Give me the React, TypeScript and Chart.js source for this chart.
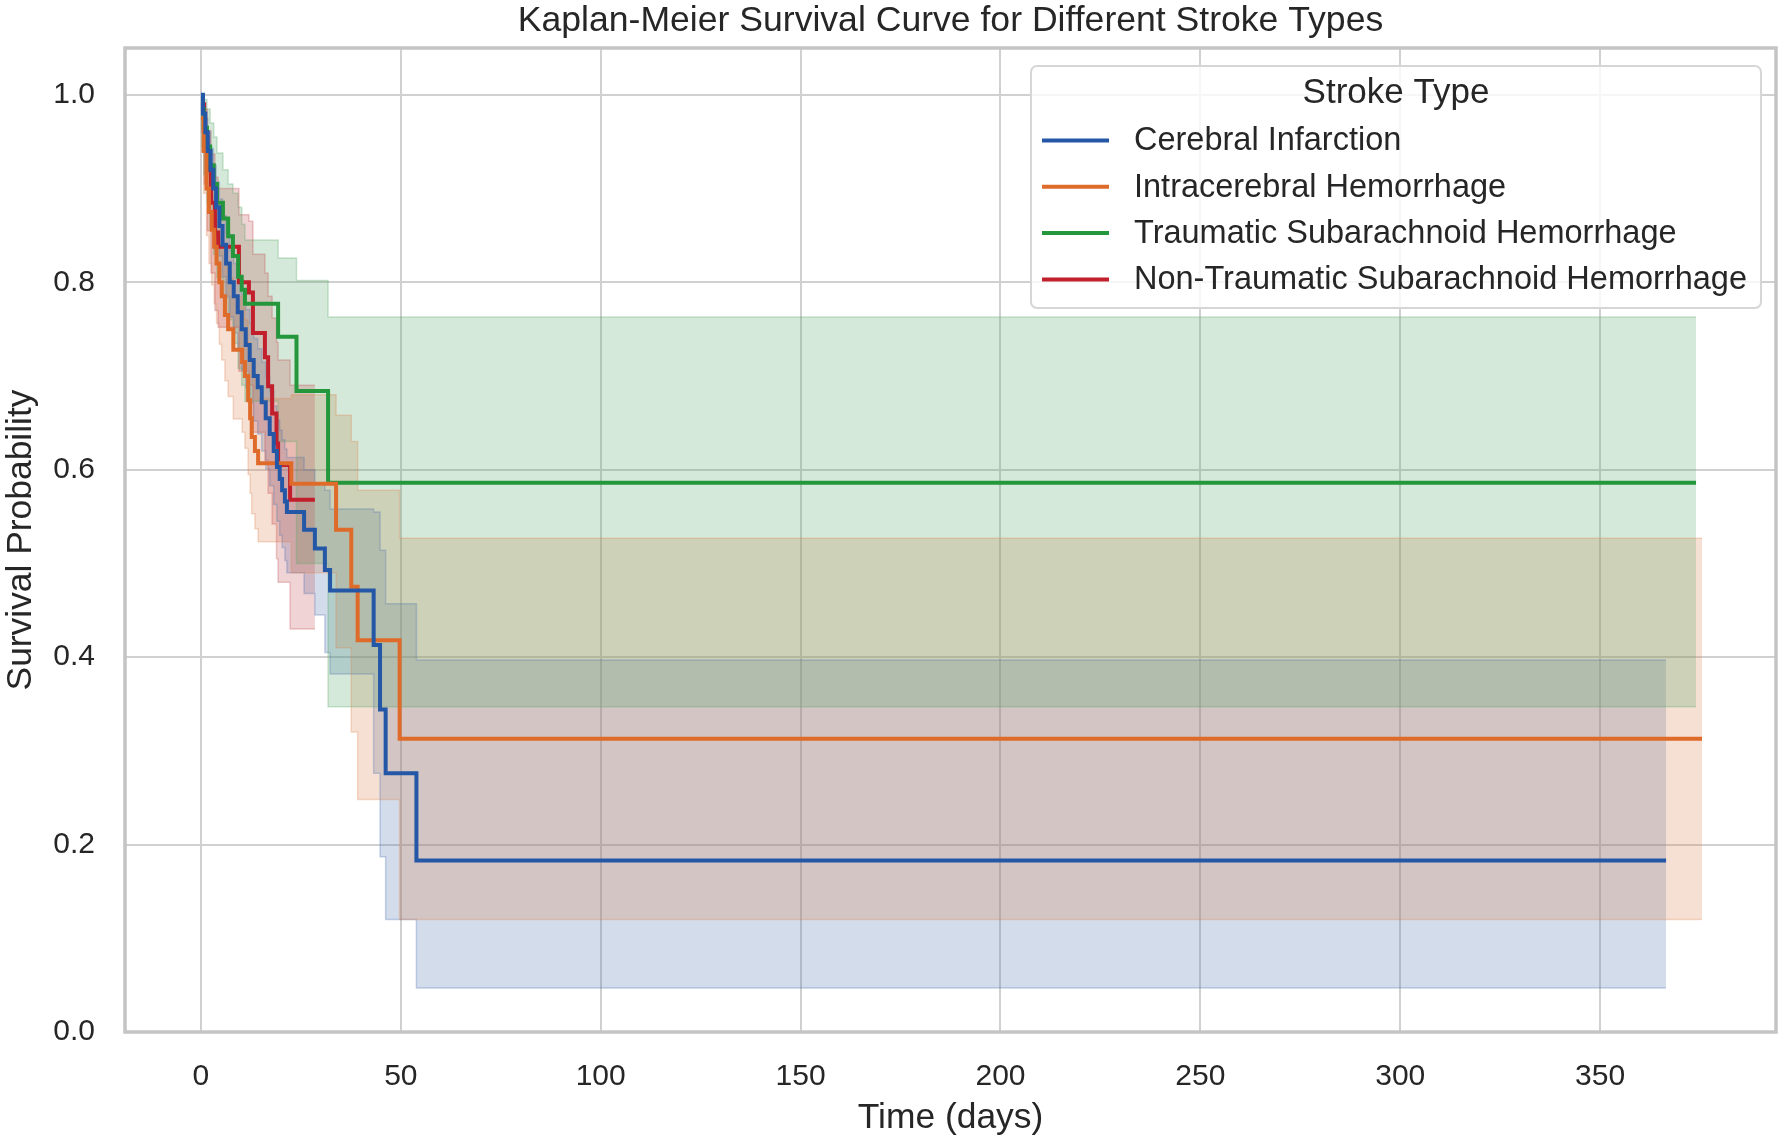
import React, { useEffect, useRef } from "react";
import { Chart, registerables } from "chart.js";

Chart.register(...registerables);

const TITLE = "Kaplan-Meier Survival Curve for Different Stroke Types";
const LEGEND_TITLE = "Stroke Type";
const X_LABEL = "Time (days)";
const Y_LABEL = "Survival Probability";
const X_TICKS = [0, 50, 100, 150, 200, 250, 300, 350];
const Y_TICKS = [0, 0.2, 0.4, 0.6, 0.8, 1.0];

// Cerebral Infarction
const ciTime = [0, 0.5, 1.1, 1.7, 2.4, 3.1, 3.8, 4.6, 5.4, 6.3, 7.2, 8.2, 9.2, 10.2, 11.2, 12.2, 13.2, 14.2, 15.2, 16.2, 17.2, 18.2, 19.0, 19.7, 20.3, 21.0, 21.5, 25.8, 28.5, 31.0, 32.3, 43.2, 44.8, 46.2, 53.9];
const ciSurv = [1.0, 0.98, 0.96, 0.94, 0.92, 0.9, 0.88, 0.86, 0.84, 0.82, 0.8, 0.785, 0.768, 0.75, 0.733, 0.717, 0.7, 0.688, 0.672, 0.655, 0.638, 0.62, 0.603, 0.59, 0.578, 0.566, 0.555, 0.536, 0.516, 0.493, 0.471, 0.413, 0.344, 0.276, 0.183];
const ciLower = [1.0, 0.965, 0.94, 0.915, 0.893, 0.872, 0.85, 0.828, 0.806, 0.785, 0.763, 0.746, 0.727, 0.707, 0.688, 0.671, 0.652, 0.638, 0.62, 0.601, 0.583, 0.563, 0.545, 0.53, 0.517, 0.503, 0.49, 0.468, 0.445, 0.405, 0.382, 0.276, 0.187, 0.12, 0.047];
const ciUpper = [1.0, 0.99, 0.975, 0.96, 0.943, 0.925, 0.907, 0.889, 0.871, 0.852, 0.834, 0.82, 0.804, 0.787, 0.771, 0.756, 0.74, 0.729, 0.715, 0.699, 0.684, 0.668, 0.653, 0.642, 0.632, 0.622, 0.613, 0.6, 0.585, 0.578, 0.558, 0.555, 0.514, 0.457, 0.397];
const ciEnd = 366.5;

// Intracerebral Hemorrhage
const ichTime = [0, 0.7, 1.4, 2.0, 2.7, 3.3, 3.9, 4.6, 5.2, 6.0, 6.8, 8.1, 10.3, 11.0, 11.8, 12.3, 12.7, 13.5, 14.3, 22.6, 33.8, 37.6, 39.2, 49.7];
const ichSurv = [0.975, 0.94, 0.9, 0.875, 0.856, 0.838, 0.82, 0.8, 0.785, 0.765, 0.75, 0.728, 0.715, 0.7, 0.674, 0.655, 0.635, 0.62, 0.607, 0.585, 0.536, 0.475, 0.418, 0.313];
const ichLower = [0.94, 0.895, 0.85, 0.82, 0.797, 0.777, 0.756, 0.734, 0.717, 0.695, 0.678, 0.654, 0.64, 0.623, 0.595, 0.575, 0.553, 0.537, 0.523, 0.49, 0.41, 0.32, 0.248, 0.12];
const ichUpper = [0.99, 0.965, 0.935, 0.915, 0.9, 0.884, 0.868, 0.85, 0.837, 0.819, 0.805, 0.785, 0.773, 0.76, 0.736, 0.719, 0.7, 0.688, 0.676, 0.68, 0.658, 0.63, 0.578, 0.527];
const ichEnd = 375.5;

// Traumatic Subarachnoid Hemorrhage
const tsahTime = [0, 0.7, 1.5, 2.3, 3.2, 4.0, 5.5, 6.8, 8.0, 9.3, 10.2, 11.0, 19.3, 23.9, 31.8];
const tsahSurv = [0.985, 0.965, 0.945, 0.925, 0.905, 0.885, 0.868, 0.849, 0.828, 0.806, 0.792, 0.777, 0.742, 0.684, 0.586];
const tsahLower = [0.945, 0.915, 0.885, 0.857, 0.83, 0.805, 0.783, 0.76, 0.735, 0.708, 0.69, 0.673, 0.63, 0.5, 0.347];
const tsahUpper = [1.0, 0.995, 0.985, 0.97, 0.955, 0.938, 0.92, 0.905, 0.895, 0.88, 0.862, 0.845, 0.826, 0.802, 0.763];
const tsahEnd = 374;

// Non-Traumatic Subarachnoid Hemorrhage
const ntsahTime = [0, 0.8, 1.6, 2.5, 3.5, 4.3, 9.5, 12.0, 13.0, 16.0, 16.8, 17.8, 18.9, 19.3, 22.3];
const ntsahSurv = [0.99, 0.955, 0.92, 0.885, 0.853, 0.838, 0.8, 0.789, 0.746, 0.72, 0.689, 0.66, 0.628, 0.605, 0.568];
const ntsahLower = [0.96, 0.905, 0.855, 0.81, 0.77, 0.752, 0.705, 0.69, 0.64, 0.61, 0.575, 0.542, 0.505, 0.48, 0.43];
const ntsahUpper = [1.0, 0.985, 0.962, 0.937, 0.912, 0.9, 0.872, 0.865, 0.83, 0.81, 0.785, 0.762, 0.736, 0.717, 0.69];
const ntsahEnd = 28.5;

const FONT = "'Liberation Sans', Arial, sans-serif";
const TEXT = "#262626";

const series = [
  { label: "Cerebral Infarction", time: ciTime, surv: ciSurv, lower: ciLower, upper: ciUpper, end: ciEnd, line: "#2457a6", band: "76,114,176" },
  { label: "Intracerebral Hemorrhage", time: ichTime, surv: ichSurv, lower: ichLower, upper: ichUpper, end: ichEnd, line: "#df6b2a", band: "221,132,82" },
  { label: "Traumatic Subarachnoid Hemorrhage", time: tsahTime, surv: tsahSurv, lower: tsahLower, upper: tsahUpper, end: tsahEnd, line: "#24963b", band: "85,168,104" },
  { label: "Non-Traumatic Subarachnoid Hemorrhage", time: ntsahTime, surv: ntsahSurv, lower: ntsahLower, upper: ntsahUpper, end: ntsahEnd, line: "#c21f2c", band: "196,78,82" },
];

// step points, last value held to the end of follow-up
const steps = (t: number[], v: number[], end: number) => [
  ...t.map((x, i) => ({ x, y: v[i] })),
  { x: end, y: v[v.length - 1] },
];

// axes frame drawn over the data, like matplotlib spines
const framePlugin = {
  id: "frame",
  afterDatasetsDraw(chart: any) {
    const { ctx, chartArea: a } = chart;
    ctx.save();
    ctx.strokeStyle = "#c4c4c4";
    ctx.lineWidth = 3.5;
    ctx.strokeRect(a.left, a.top, a.right - a.left, a.bottom - a.top);
    ctx.restore();
  },
};

// legend box in the upper right of the plot area
const legendPlugin = {
  id: "boxLegend",
  afterDraw(chart: any) {
    const { ctx, chartArea: a } = chart;
    const w = 730;
    const h = 242;
    const x = a.right - 745;
    const y = a.top + 18;
    ctx.save();
    ctx.beginPath();
    ctx.roundRect(x, y, w, h, 6);
    ctx.fillStyle = "rgba(255,255,255,0.8)";
    ctx.fill();
    ctx.strokeStyle = "#d6d6d6";
    ctx.lineWidth = 2;
    ctx.stroke();

    ctx.fillStyle = TEXT;
    ctx.textBaseline = "middle";
    ctx.textAlign = "center";
    ctx.font = `35px ${FONT}`;
    ctx.fillText(LEGEND_TITLE, x + w / 2, a.top + 45);

    ctx.textAlign = "left";
    ctx.font = `32.5px ${FONT}`;
    series.forEach((s, i) => {
      const ry = a.top + 92.5 + i * 46.3;
      ctx.strokeStyle = s.line;
      ctx.lineWidth = 4;
      ctx.beginPath();
      ctx.moveTo(x + 11, ry);
      ctx.lineTo(x + 78, ry);
      ctx.stroke();
      ctx.fillStyle = TEXT;
      ctx.fillText(s.label, x + 103, ry + 1);
    });
    ctx.restore();
  },
};

const App = () => {
  const canvasRef = useRef<HTMLCanvasElement>(null);
  const chartRef = useRef<Chart | null>(null);

  useEffect(() => {
    document.body.style.margin = "0";
    if (!canvasRef.current) return;
    if (chartRef.current) chartRef.current.destroy();

    const lines = series.map((s) => ({
      label: s.label,
      data: steps(s.time, s.surv, s.end),
      borderColor: s.line,
      borderWidth: 4,
      pointRadius: 0,
      stepped: true,
      fill: false,
      order: 0,
    }));

    // later series' bands are painted over earlier ones (higher order = drawn first)
    const bands: any[] = [];
    series.forEach((s, i) => {
      const lowerIndex = series.length + i * 2;
      const order = series.length + 1 - i;
      bands.push({
        label: s.label + " lower",
        data: steps(s.time, s.lower, s.end),
        borderColor: `rgba(${s.band},0.3)`,
        borderWidth: 1.5,
        pointRadius: 0,
        stepped: true,
        fill: false,
        order,
      });
      bands.push({
        label: s.label + " upper",
        data: steps(s.time, s.upper, s.end),
        borderColor: `rgba(${s.band},0.3)`,
        backgroundColor: `rgba(${s.band},0.25)`,
        borderWidth: 1.5,
        pointRadius: 0,
        stepped: true,
        fill: lowerIndex,
        order,
      });
    });

    const tickFont = { family: FONT, size: 30 };
    const titleFont = { family: FONT, size: 35.4 };

    chartRef.current = new Chart(canvasRef.current, {
      type: "line",
      data: { datasets: [...lines, ...bands] as any },
      options: {
        responsive: false,
        devicePixelRatio: 1,
        animation: false,
        events: [],
        layout: { padding: { left: 0, right: 8, top: 0, bottom: 0 } },
        scales: {
          x: {
            type: "linear",
            min: -19,
            max: 394,
            afterBuildTicks: (scale: any) => {
              scale.ticks = X_TICKS.map((value) => ({ value }));
            },
            afterFit: (scale: any) => {
              scale.height = 109;
            },
            ticks: { font: tickFont, color: TEXT, padding: 27, maxRotation: 0 },
            grid: { color: "#d0d0d0", lineWidth: 2, drawTicks: false },
            border: { display: false },
            title: {
              display: true,
              text: X_LABEL,
              font: titleFont,
              color: TEXT,
              padding: { top: 0, bottom: 2 },
            },
          },
          y: {
            type: "linear",
            min: 0,
            max: 1.05,
            afterBuildTicks: (scale: any) => {
              scale.ticks = Y_TICKS.map((value) => ({ value }));
            },
            afterFit: (scale: any) => {
              scale.width = 125;
            },
            ticks: {
              font: tickFont,
              color: TEXT,
              padding: 30,
              callback: (v: any) => Number(v).toFixed(1),
            },
            grid: { color: "#d0d0d0", lineWidth: 2, drawTicks: false },
            border: { display: false },
            title: {
              display: true,
              text: Y_LABEL,
              font: titleFont,
              color: TEXT,
              padding: { top: 0, bottom: 0 },
            },
          },
        },
        plugins: {
          legend: { display: false },
          tooltip: { enabled: false },
          filler: { drawTime: "beforeDatasetsDraw" },
          title: {
            display: true,
            text: TITLE,
            fullSize: false,
            font: { family: FONT, size: 35.6, weight: "normal" },
            color: TEXT,
            padding: { top: 0, bottom: 5 },
          },
        },
      },
      plugins: [framePlugin, legendPlugin],
    });

    return () => {
      if (chartRef.current) {
        chartRef.current.destroy();
        chartRef.current = null;
      }
    };
  }, []);

  return (
    <div style={{ width: 1784, height: 1141, background: "#fff" }}>
      <canvas ref={canvasRef} width={1784} height={1141} />
    </div>
  );
};

export default App;
